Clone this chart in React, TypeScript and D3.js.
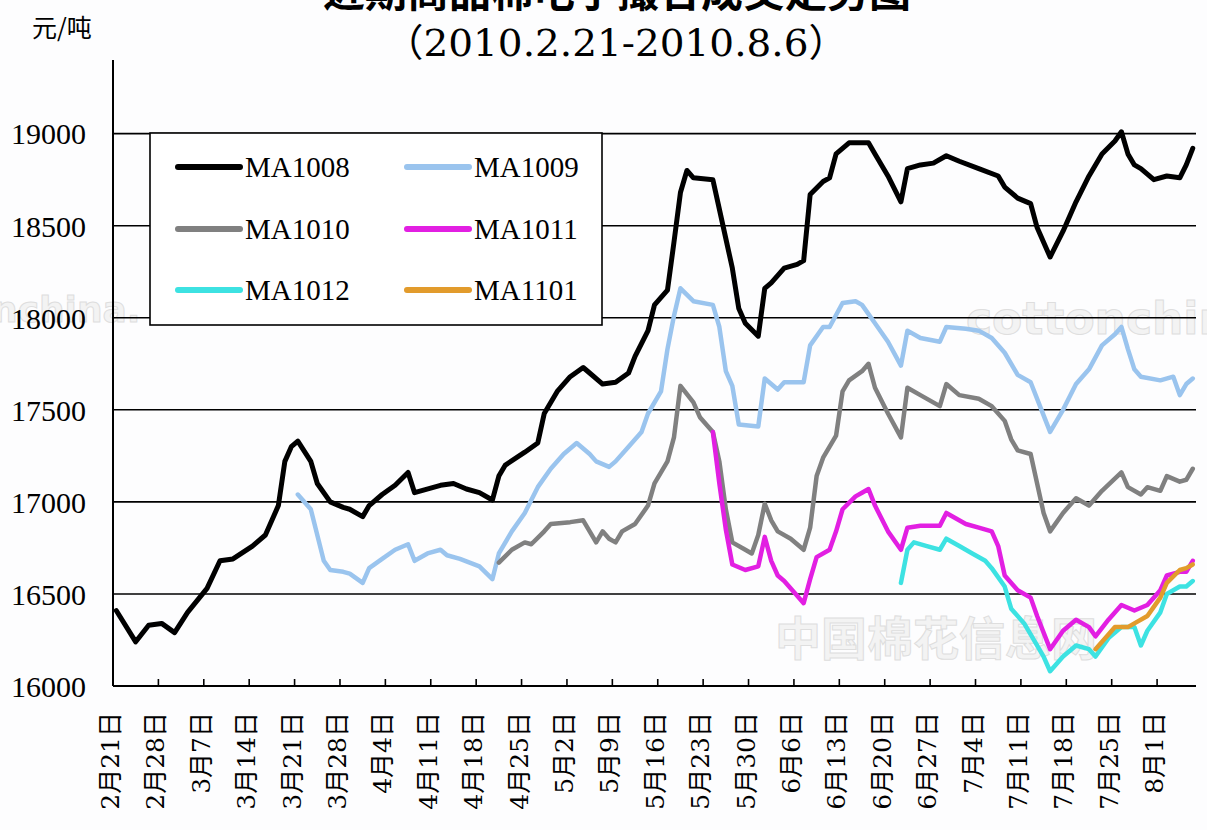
import React from 'react';
import * as d3 from 'd3';

// weekly category labels on the x axis
const tickLabels = [
  '2月21日', '2月28日', '3月7日', '3月14日', '3月21日', '3月28日', '4月4日', '4月11日',
  '4月18日', '4月25日', '5月2日', '5月9日', '5月16日', '5月23日', '5月30日', '6月6日',
  '6月13日', '6月20日', '6月27日', '7月4日', '7月11日', '7月18日', '7月25日', '8月1日',
];
const yTicks = [16000, 16500, 17000, 17500, 18000, 18500, 19000];

const seriesNames = ['MA1008', 'MA1009', 'MA1010', 'MA1011', 'MA1012', 'MA1101'];
const seriesColors = ['#000000', '#9ac4ee', '#808080', '#e21fe2', '#3de2e2', '#e29b2c'];

const ma1008: [string, number][] = [
  ['02-21', 16410], ['02-24', 16240], ['02-26', 16330], ['02-28', 16340], ['03-02', 16290],
  ['03-04', 16400], ['03-07', 16530], ['03-09', 16680], ['03-11', 16690], ['03-14', 16760],
  ['03-16', 16820], ['03-18', 16980], ['03-19', 17220], ['03-20', 17300], ['03-21', 17330],
  ['03-23', 17220], ['03-24', 17100], ['03-26', 17000], ['03-28', 16970], ['03-29', 16960],
  ['03-31', 16920], ['04-01', 16980], ['04-03', 17040], ['04-05', 17090], ['04-07', 17160],
  ['04-08', 17050], ['04-12', 17090], ['04-14', 17100], ['04-16', 17070], ['04-18', 17050],
  ['04-20', 17010], ['04-21', 17140], ['04-22', 17200], ['04-25', 17270], ['04-27', 17320],
  ['04-28', 17480], ['04-30', 17600], ['05-02', 17680], ['05-04', 17730], ['05-05', 17700],
  ['05-07', 17640], ['05-09', 17650], ['05-11', 17700], ['05-12', 17790], ['05-14', 17930],
  ['05-15', 18070], ['05-17', 18150], ['05-18', 18410], ['05-19', 18680], ['05-20', 18800],
  ['05-21', 18760], ['05-24', 18750], ['05-25', 18590], ['05-26', 18430], ['05-27', 18270],
  ['05-28', 18050], ['05-29', 17970], ['05-31', 17900], ['06-01', 18160], ['06-02', 18190],
  ['06-04', 18270], ['06-06', 18290], ['06-07', 18310], ['06-08', 18670], ['06-10', 18740],
  ['06-11', 18760], ['06-12', 18890], ['06-14', 18950], ['06-16', 18950], ['06-17', 18950],
  ['06-18', 18890], ['06-20', 18770], ['06-22', 18630], ['06-23', 18810], ['06-25', 18830],
  ['06-27', 18840], ['06-29', 18880], ['07-01', 18850], ['07-04', 18810], ['07-07', 18770],
  ['07-08', 18710], ['07-10', 18650], ['07-12', 18620], ['07-13', 18490], ['07-15', 18330],
  ['07-17', 18470], ['07-19', 18630], ['07-21', 18770], ['07-23', 18890], ['07-25', 18960],
  ['07-26', 19010], ['07-27', 18890], ['07-28', 18830], ['07-29', 18810], ['07-31', 18750],
  ['08-02', 18770], ['08-04', 18760], ['08-05', 18830], ['08-06', 18920],
];

const ma1009: [string, number][] = [
  ['03-21', 17040], ['03-23', 16960], ['03-24', 16820], ['03-25', 16680], ['03-26', 16630],
  ['03-28', 16620], ['03-29', 16610], ['03-31', 16560], ['04-01', 16640], ['04-03', 16690],
  ['04-05', 16740], ['04-07', 16770], ['04-08', 16680], ['04-10', 16720], ['04-12', 16740],
  ['04-13', 16710], ['04-15', 16690], ['04-18', 16650], ['04-20', 16580], ['04-21', 16720],
  ['04-23', 16840], ['04-25', 16940], ['04-27', 17080], ['04-29', 17180], ['05-01', 17260],
  ['05-03', 17320], ['05-05', 17260], ['05-06', 17220], ['05-08', 17190], ['05-09', 17220],
  ['05-11', 17300], ['05-13', 17380], ['05-14', 17480], ['05-16', 17600], ['05-17', 17830],
  ['05-18', 18010], ['05-19', 18160], ['05-21', 18090], ['05-24', 18070], ['05-25', 17950],
  ['05-26', 17710], ['05-27', 17630], ['05-28', 17420], ['05-31', 17410], ['06-01', 17670],
  ['06-03', 17610], ['06-04', 17650], ['06-07', 17650], ['06-08', 17850], ['06-10', 17950],
  ['06-11', 17950], ['06-13', 18080], ['06-15', 18090], ['06-16', 18070], ['06-18', 17970],
  ['06-20', 17870], ['06-22', 17740], ['06-23', 17930], ['06-25', 17890], ['06-28', 17870],
  ['06-29', 17950], ['07-02', 17940], ['07-04', 17930], ['07-06', 17890], ['07-08', 17810],
  ['07-10', 17690], ['07-12', 17650], ['07-14', 17470], ['07-15', 17380], ['07-17', 17500],
  ['07-19', 17640], ['07-21', 17720], ['07-23', 17850], ['07-25', 17910], ['07-26', 17950],
  ['07-27', 17830], ['07-28', 17720], ['07-29', 17680], ['08-01', 17660], ['08-03', 17680],
  ['08-04', 17580], ['08-05', 17640], ['08-06', 17670],
];

const ma1010: [string, number][] = [
  ['04-21', 16670], ['04-23', 16740], ['04-25', 16780], ['04-26', 16770], ['04-28', 16840],
  ['04-29', 16880], ['05-02', 16890], ['05-04', 16900], ['05-05', 16840], ['05-06', 16780],
  ['05-07', 16840], ['05-08', 16800], ['05-09', 16780], ['05-10', 16840], ['05-12', 16880],
  ['05-14', 16980], ['05-15', 17100], ['05-17', 17220], ['05-18', 17350], ['05-19', 17630],
  ['05-21', 17540], ['05-22', 17460], ['05-24', 17380], ['05-25', 17220], ['05-26', 16960],
  ['05-27', 16780], ['05-29', 16740], ['05-30', 16720], ['05-31', 16820], ['06-01', 16990],
  ['06-02', 16900], ['06-03', 16840], ['06-05', 16800], ['06-07', 16740], ['06-08', 16860],
  ['06-09', 17140], ['06-10', 17240], ['06-12', 17360], ['06-13', 17600], ['06-14', 17660],
  ['06-16', 17710], ['06-17', 17750], ['06-18', 17620], ['06-20', 17480], ['06-22', 17350],
  ['06-23', 17620], ['06-25', 17580], ['06-28', 17520], ['06-29', 17640], ['07-01', 17580],
  ['07-04', 17560], ['07-06', 17520], ['07-08', 17440], ['07-09', 17340], ['07-10', 17280],
  ['07-12', 17260], ['07-13', 17100], ['07-14', 16940], ['07-15', 16840], ['07-17', 16940],
  ['07-19', 17020], ['07-21', 16980], ['07-23', 17060], ['07-26', 17160], ['07-27', 17080],
  ['07-29', 17040], ['07-30', 17080], ['08-01', 17060], ['08-02', 17140], ['08-04', 17110],
  ['08-05', 17120], ['08-06', 17180],
];

const ma1011: [string, number][] = [
  ['05-24', 17380], ['05-25', 17100], ['05-26', 16850], ['05-27', 16660], ['05-29', 16630],
  ['05-31', 16650], ['06-01', 16810], ['06-02', 16680], ['06-03', 16600], ['06-04', 16570],
  ['06-06', 16490], ['06-07', 16450], ['06-08', 16580], ['06-09', 16700], ['06-11', 16740],
  ['06-12', 16840], ['06-13', 16960], ['06-15', 17030], ['06-16', 17050], ['06-17', 17070],
  ['06-18', 16980], ['06-20', 16840], ['06-22', 16740], ['06-23', 16860], ['06-25', 16870],
  ['06-28', 16870], ['06-29', 16940], ['07-02', 16880], ['07-04', 16860], ['07-06', 16840],
  ['07-07', 16760], ['07-08', 16600], ['07-10', 16520], ['07-12', 16480], ['07-13', 16380],
  ['07-15', 16200], ['07-17', 16300], ['07-19', 16360], ['07-21', 16320], ['07-22', 16270],
  ['07-24', 16360], ['07-26', 16440], ['07-28', 16410], ['07-30', 16440], ['08-01', 16520],
  ['08-02', 16600], ['08-04', 16620], ['08-05', 16620], ['08-06', 16680],
];

const ma1012: [string, number][] = [
  ['06-22', 16560], ['06-23', 16740], ['06-24', 16780], ['06-26', 16760], ['06-28', 16740],
  ['06-29', 16800], ['07-01', 16760], ['07-03', 16720], ['07-05', 16680], ['07-06', 16640],
  ['07-08', 16540], ['07-09', 16420], ['07-11', 16340], ['07-12', 16280], ['07-14', 16160],
  ['07-15', 16080], ['07-17', 16160], ['07-19', 16220], ['07-21', 16200], ['07-22', 16160],
  ['07-24', 16260], ['07-26', 16320], ['07-28', 16320], ['07-29', 16220], ['07-30', 16300],
  ['08-01', 16400], ['08-02', 16500], ['08-04', 16540], ['08-05', 16540], ['08-06', 16570],
];

const ma1101: [string, number][] = [
  ['07-22', 16200], ['07-24', 16280], ['07-25', 16320], ['07-27', 16320], ['07-28', 16340],
  ['07-30', 16380], ['08-01', 16480], ['08-02', 16560], ['08-04', 16630], ['08-05', 16640],
  ['08-06', 16660],
];

const allSeries = [ma1008, ma1009, ma1010, ma1011, ma1012, ma1101];

const parseDay = d3.utcParse('%Y-%m-%d');
const toDate = (s: string) => parseDay('2010-' + s) as Date;
const labelDate = (s: string) => {
  const m = s.match(/(\d+)月(\d+)日/)!;
  return new Date(Date.UTC(2010, +m[1] - 1, +m[2]));
};

export default function App() {
  const left = 113, right = 1196, bottom = 686, top = 60;

  const x = d3.scaleUtc()
    .domain([new Date(Date.UTC(2010, 1, 21)), new Date(Date.UTC(2010, 7, 7))])
    .range([left, right]);
  const y = d3.scaleLinear().domain([16000, 19400]).range([bottom, top]);

  // each trading day sits in the middle of its day slot
  const line = d3.line<[string, number]>()
    .x(d => x(d3.utcHour.offset(toDate(d[0]), 12)))
    .y(d => y(d[1]));

  const legendRows = [167, 229, 290];
  const legendCols = [178, 407];

  return (
    <svg width={1207} height={830} style={{ position: 'absolute', left: 0, top: 0, background: '#fdfdfe' }}>
      {/* faint watermarks of the source site */}
      <g fontFamily="DejaVu Sans, Noto Sans CJK SC" fontWeight="bold" fill="#f3f3f3" stroke="#dedede" strokeWidth={1}>
        <text x={966} y={334} fontSize={44}>cottonchina</text>
        <text x={-8} y={322} fontSize={36}>nchina.</text>
        <text x={775} y={655} fontSize={46} fontFamily="Noto Sans CJK SC">中国棉花信息网</text>
      </g>

      {/* title, its first line cut by the picture edge */}
      <text x={617} y={7} textAnchor="middle" fontFamily="Noto Sans CJK SC" fontWeight="bold" fontSize={42}>
        近期商品棉电子撮合成交走势图
      </text>
      <text x={616} y={56} textAnchor="middle" fontFamily="DejaVu Serif, Noto Sans CJK SC" fontSize={38}
        textLength={463} lengthAdjust="spacingAndGlyphs">
        （2010.2.21-2010.8.6）
      </text>
      <text x={32} y={37} fontFamily="Noto Sans CJK SC" fontSize={25}>元/吨</text>

      {/* grid */}
      {yTicks.slice(1).map(t => (
        <line key={t} x1={left} x2={right} y1={y(t)} y2={y(t)} stroke="#000" strokeWidth={1.6} />
      ))}
      {yTicks.map(t => (
        <text key={'l' + t} x={86} y={y(t)} dy="0.36em" textAnchor="end"
          fontFamily="Liberation Serif" fontSize={30}>{t}</text>
      ))}

      {/* axes */}
      <line x1={left} x2={left} y1={top} y2={bottom} stroke="#000" strokeWidth={2} />
      <line x1={left} x2={right} y1={bottom} y2={bottom} stroke="#000" strokeWidth={2} />
      {tickLabels.map(lbl => {
        const tx = x(labelDate(lbl));
        return (
          <g key={lbl}>
            <line x1={tx} x2={tx} y1={bottom} y2={bottom - 7} stroke="#000" strokeWidth={1.6} />
            <text transform={`translate(${tx - 3},712) rotate(-90)`} dy="0.36em" textAnchor="end"
              fontFamily="DejaVu Serif, Noto Sans CJK SC" fontSize={25}>{lbl}</text>
          </g>
        );
      })}

      {/* series */}
      {allSeries.map((s, i) => (
        <path key={seriesNames[i]} d={line(s) || ''} fill="none" stroke={seriesColors[i]}
          strokeWidth={i === 0 ? 5 : 4.5} strokeLinejoin="round" strokeLinecap="round" />
      ))}

      {/* legend */}
      <rect x={150} y={133} width={452} height={192} fill="#fff" stroke="#000" strokeWidth={1.6} />
      {seriesNames.map((name, i) => {
        const lx = legendCols[i % 2], ly = legendRows[Math.floor(i / 2)];
        return (
          <g key={name}>
            <line x1={lx} x2={lx + 62} y1={ly} y2={ly} stroke={seriesColors[i]} strokeWidth={6} strokeLinecap="round" />
            <text x={lx + 67} y={ly} dy="0.36em" fontFamily="Liberation Serif" fontSize={29}>{name}</text>
          </g>
        );
      })}
    </svg>
  );
}
